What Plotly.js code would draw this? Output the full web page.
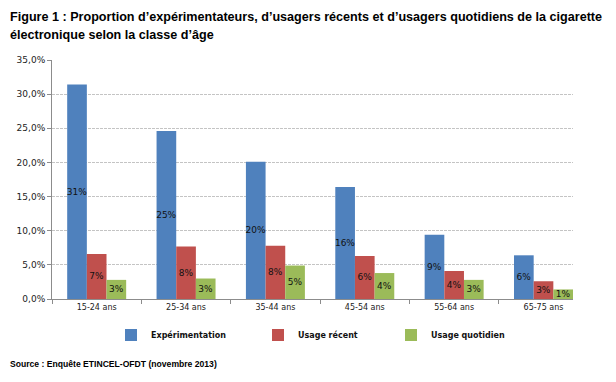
<!DOCTYPE html>
<html>
<head>
<meta charset="utf-8">
<script src="https://cdn.plot.ly/plotly-3.0.1.min.js"></script>
<style>html,body{margin:0;padding:0;background:#fff;}#chart{width:616px;height:382px;}</style>
</head>
<body>
<div id="chart"></div>
<script>
const categories = ['15-24 ans', '25-34 ans', '35-44 ans', '45-54 ans', '55-64 ans', '65-75 ans'];
const experimentation = [31.4, 24.6, 20.1, 16.4, 9.4, 6.4];
const usageRecent = [6.6, 7.7, 7.8, 6.3, 4.1, 2.6];
const usageQuotidien = [2.8, 3.0, 4.9, 3.8, 2.8, 1.4];
const seriesNames = ['Expérimentation', 'Usage récent', 'Usage quotidien'];
const seriesColors = ['#4F81BD', '#C0504D', '#9BBB59'];
const yTicks = [0, 5, 10, 15, 20, 25, 30, 35];
const yTickLabels = ['0,0%', '5,0%', '10,0%', '15,0%', '20,0%', '25,0%', '30,0%', '35,0%'];
const titleLines = [
  'Figure 1 : Proportion d’expérimentateurs, d’usagers récents et d’usagers quotidiens de la cigarette',
  'électronique selon la classe d’âge'
];
const sourceText = 'Source : Enquête ETINCEL-OFDT (novembre 2013)';

const W = 616, H = 382;
const L = 52, R = 573, T = 60, B = 299;
const px2x = p => (p - L) / (R - L);
const px2y = p => (B - p) / (B - T);

const legendIds = ['legend', 'legend2', 'legend3'];
const legendTextStart = [111, 258, 391];

const allValues = [experimentation, usageRecent, usageQuotidien];
const traces = allValues.map((vals, i) => ({
  type: 'bar',
  name: seriesNames[i],
  legend: legendIds[i],
  x: categories,
  y: vals,
  marker: {color: seriesColors[i], line: {width: 0}},
  texttemplate: '%{y:.0f}%',
  textposition: 'inside',
  insidetextanchor: 'middle',
  constraintext: 'none',
  textangle: 0,
  insidetextfont: {family: 'DejaVu Sans', size: 9, color: '#111'},
  hoverinfo: 'skip'
}));

function legendAt(i) {
  return {
    orientation: 'h',
    x: px2x(legendTextStart[i]), xanchor: 'left',
    y: px2y(335), yanchor: 'middle',
    font: {family: 'DejaVu Sans', size: 8, color: '#111', weight: 'bold'},
    itemwidth: 30,
    bgcolor: 'rgba(0,0,0,0)'
  };
}

const layout = {
  width: W, height: H,
  margin: {l: L, r: W - R, t: T, b: H - B, pad: 0},
  paper_bgcolor: '#fff', plot_bgcolor: '#fff',
  barmode: 'group',
  bargap: 0.34,
  bargroupgap: 0,
  showlegend: true,
  font: {family: 'DejaVu Sans', color: '#222'},
  xaxis: {
    type: 'category',
    range: [-0.5, 5.33],
    showline: true, linecolor: '#8c8c8c', linewidth: 1,
    ticks: 'outside', tickson: 'boundaries', ticklen: 4, tickcolor: '#8c8c8c',
    showgrid: false,
    tickfont: {family: 'DejaVu Sans', size: 8, color: '#222'},
    fixedrange: true
  },
  yaxis: {
    range: [0, 35],
    tickmode: 'array',
    tickvals: yTicks,
    ticktext: yTickLabels,
    showline: true, linecolor: '#8c8c8c', linewidth: 1,
    ticks: 'outside', ticklen: 4, tickcolor: '#8c8c8c',
    showgrid: true, gridcolor: '#c4c4c4', griddash: '3px,1px', gridwidth: 1,
    zeroline: false,
    tickfont: {family: 'DejaVu Sans', size: 9, color: '#222'},
    fixedrange: true
  },
  legend: legendAt(0),
  legend2: legendAt(1),
  legend3: legendAt(2),
  annotations: [
    {
      text: titleLines[0],
      xref: 'paper', yref: 'paper',
      x: px2x(8), y: px2y(17), xanchor: 'left', yanchor: 'middle',
      showarrow: false,
      font: {family: 'Liberation Sans', size: 12.6, color: '#000', weight: 'bold'}
    },
    {
      text: titleLines[1],
      xref: 'paper', yref: 'paper',
      x: px2x(8), y: px2y(35), xanchor: 'left', yanchor: 'middle',
      showarrow: false,
      font: {family: 'Liberation Sans', size: 12.6, color: '#000', weight: 'bold'}
    },
    {
      text: sourceText,
      xref: 'paper', yref: 'paper',
      x: px2x(8), y: px2y(364), xanchor: 'left', yanchor: 'middle',
      showarrow: false,
      font: {family: 'Liberation Sans', size: 8.6, color: '#000', weight: 'bold'}
    }
  ]
};

Plotly.newPlot('chart', traces, layout, {displayModeBar: false, staticPlot: true});
</script>
</body>
</html>
